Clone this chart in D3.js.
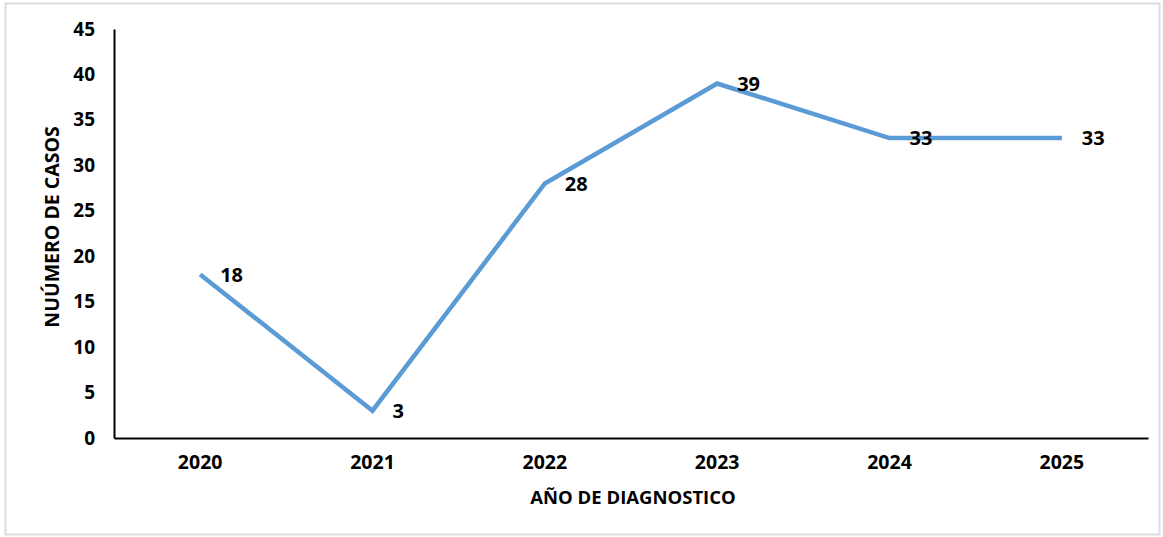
<!DOCTYPE html>
<html>
<head>
<meta charset="utf-8">
<script src="https://cdn.jsdelivr.net/npm/d3@7"></script>
<style>
  body { margin: 0; background: #fff; }
  text { font-family: "Open Sans", Lato, sans-serif; font-weight: bold; fill: #000; }
</style>
</head>
<body>
<div id="chart"></div>
<script>
// data
let years = ["2020", "2021", "2022", "2023", "2024", "2025"];
let casos = [18, 3, 28, 39, 33, 33];
let yTicks = [0, 5, 10, 15, 20, 25, 30, 35, 40, 45];

let W = 1163, H = 537;
let margin = {top: 29, right: 15, bottom: 99, left: 114},
    width = 1148 - margin.left,
    height = 438 - margin.top;

let svg = d3.select("#chart")
    .append("svg")
    .attr("width", W)
    .attr("height", H);

// outer frame
svg.append("rect")
    .attr("x", 5.5).attr("y", 3.5)
    .attr("width", W - 9).attr("height", H - 6)
    .attr("fill", "#fff")
    .attr("stroke", "#d9dce3")
    .attr("stroke-width", 2);

let g = svg.append("g")
    .attr("transform", "translate(" + margin.left + "," + margin.top + ")");

let x = d3.scaleBand()
    .domain(years)
    .range([0, width]);

let y = d3.scaleLinear()
    .domain([0, 45])
    .range([height, 0]);

// Y axis
let yAxis = g.append("g")
    .call(d3.axisLeft(y).tickValues(yTicks).tickSize(0).tickPadding(19));
yAxis.select(".domain").attr("stroke", "#000").attr("stroke-width", 2);
yAxis.selectAll("text").style("font-size", "19px");

// X axis
let xAxis = g.append("g")
    .attr("transform", "translate(0," + height + ")")
    .call(d3.axisBottom(x).tickSize(0).tickPadding(17));
xAxis.select(".domain").attr("stroke", "#000").attr("stroke-width", 2);
xAxis.selectAll("text").style("font-size", "19.5px");

// axis titles
svg.append("text")
    .attr("transform", "translate(59,227) rotate(-90)")
    .attr("text-anchor", "middle")
    .style("font-size", "19.5px")
    .text("NUÚMERO DE CASOS");

svg.append("text")
    .attr("x", 633).attr("y", 504)
    .attr("text-anchor", "middle")
    .style("font-size", "18.5px")
    .text("AÑO DE DIAGNOSTICO");

// the line
let line = d3.line()
    .x(function(d, i) { return x(years[i]) + x.bandwidth() / 2; })
    .y(function(d) { return y(d); });

g.append("path")
    .datum(casos)
    .attr("fill", "none")
    .attr("stroke", "#5b9bd5")
    .attr("stroke-width", 4.5)
    .attr("stroke-linejoin", "miter")
    .attr("d", line);

// data labels
g.selectAll(".lbl")
    .data(casos)
    .enter()
    .append("text")
    .attr("class", "lbl")
    .attr("x", function(d, i) { return x(years[i]) + x.bandwidth() / 2 + 20; })
    .attr("y", function(d) { return y(d); })
    .attr("dy", "0.36em")
    .style("font-size", "20px")
    .text(function(d) { return d; });
</script>
</body>
</html>
